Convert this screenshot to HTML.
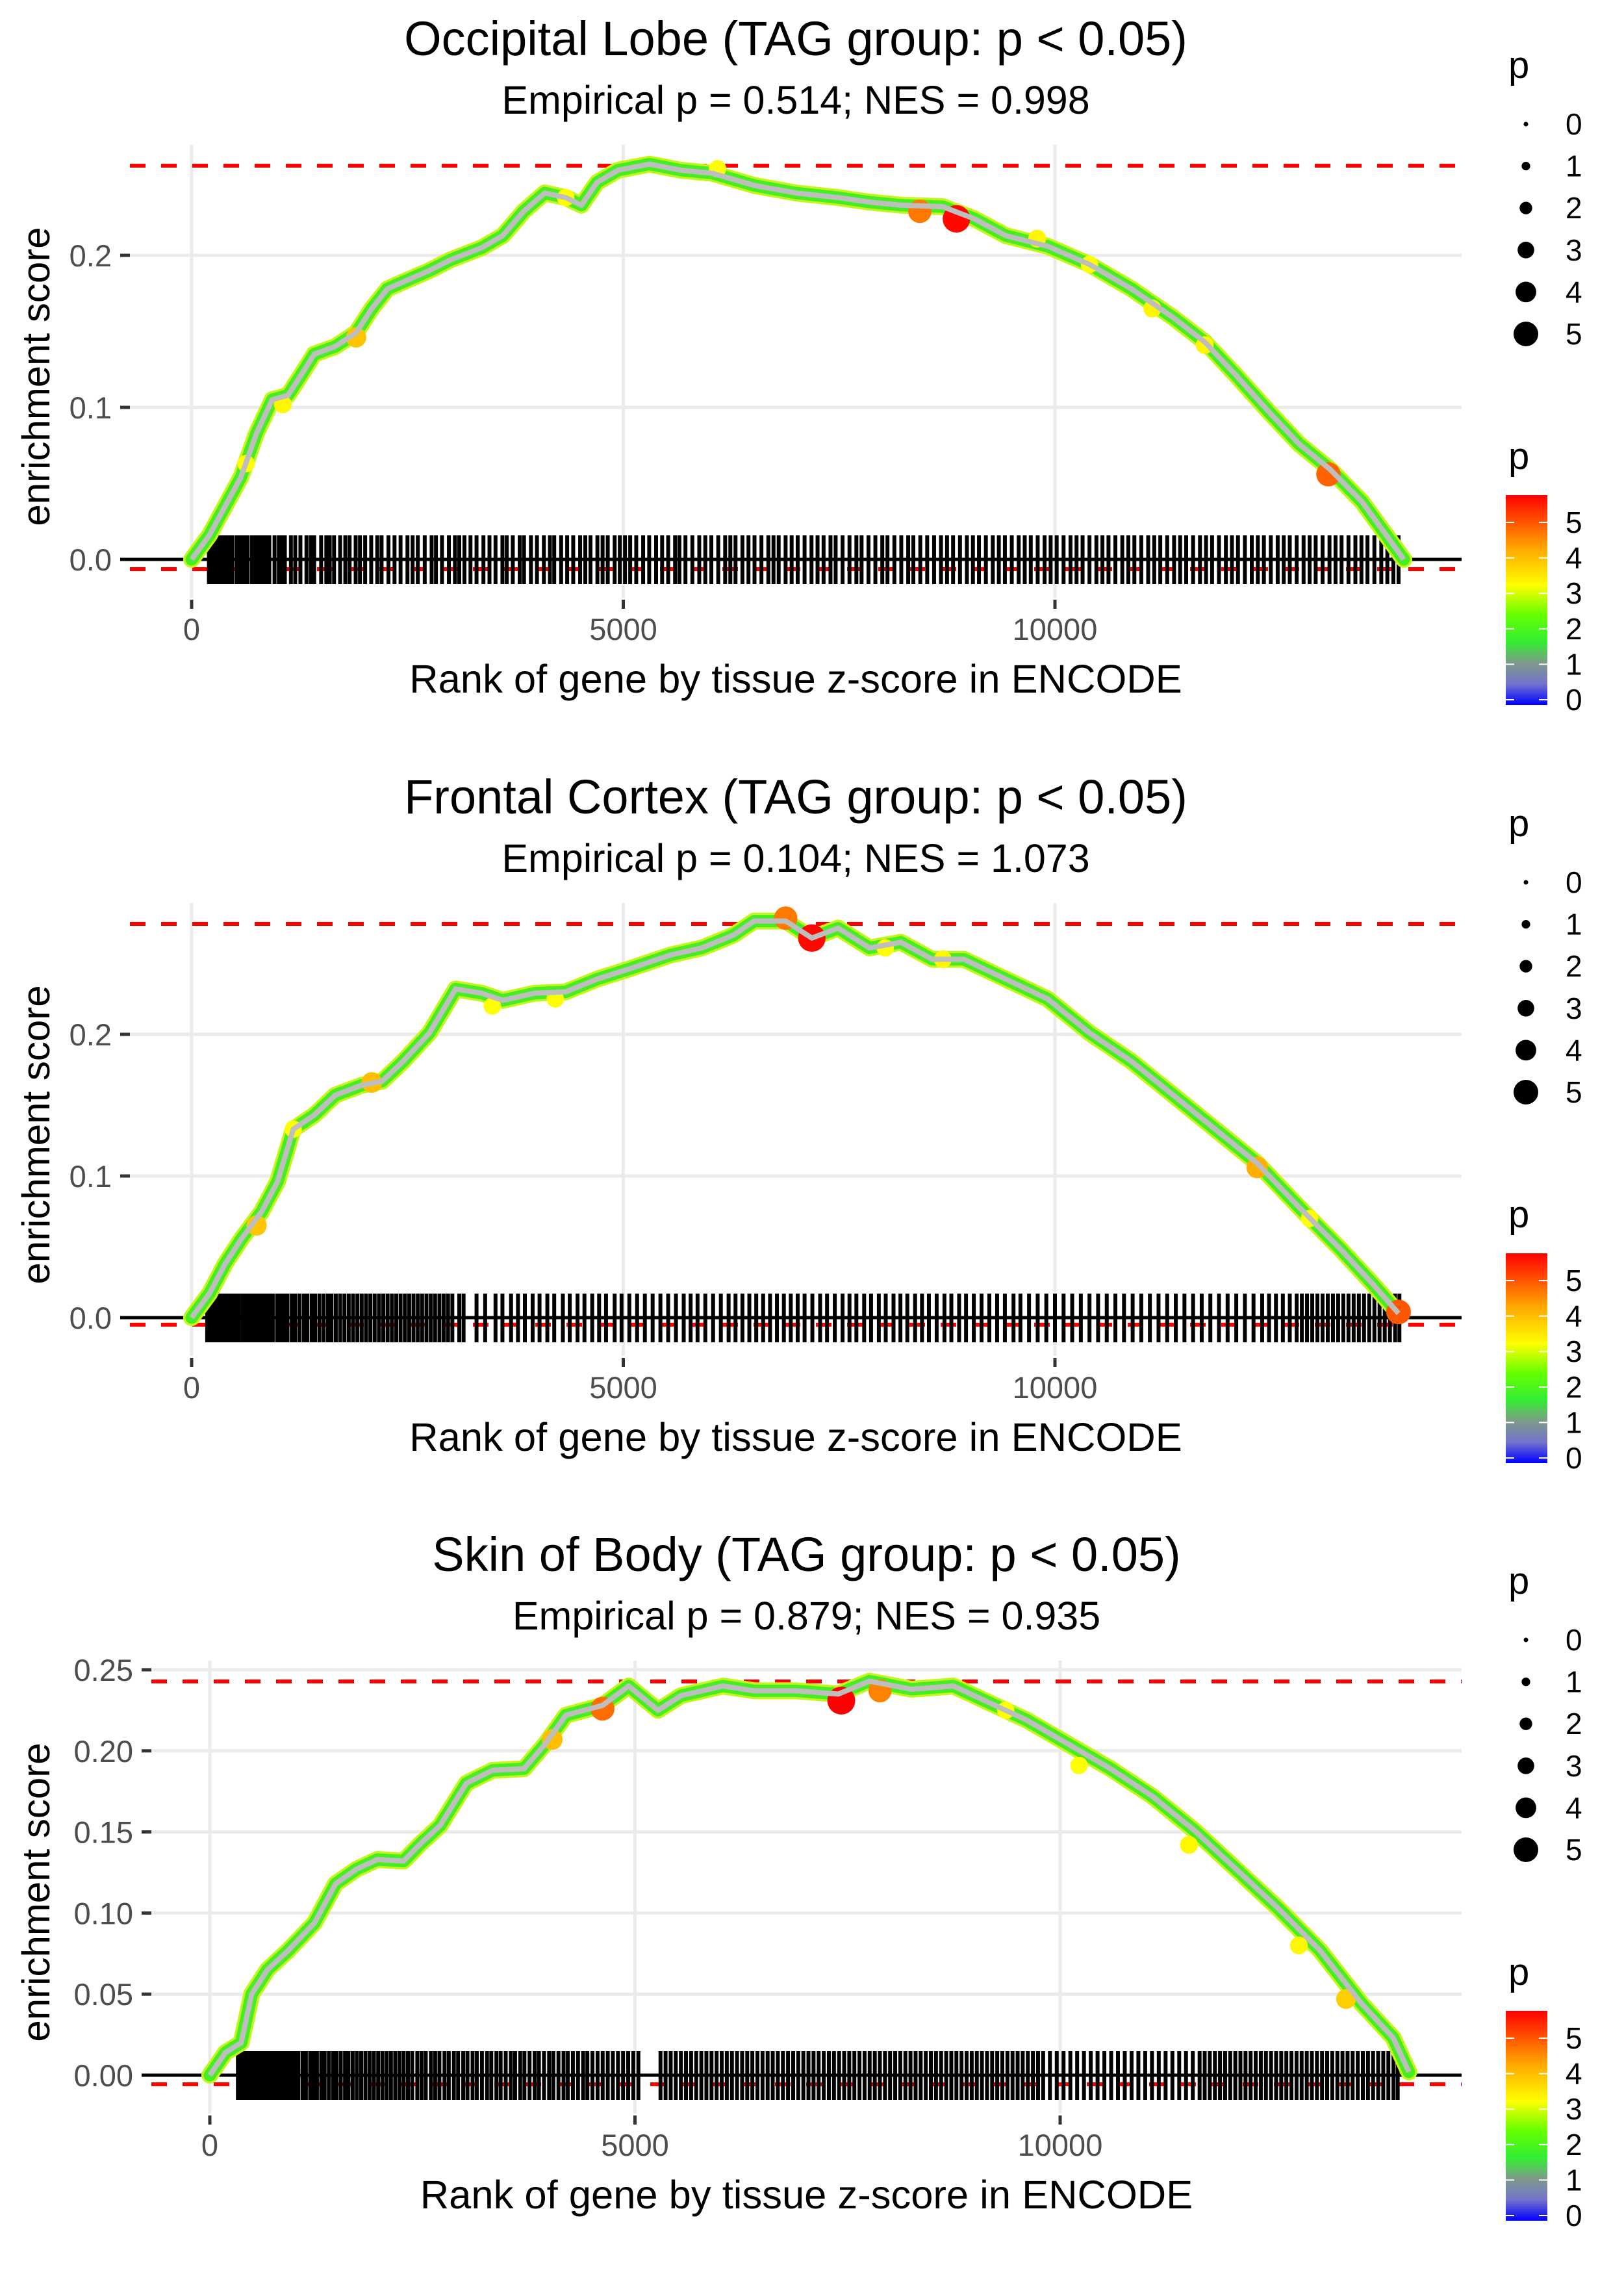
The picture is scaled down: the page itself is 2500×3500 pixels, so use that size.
<!DOCTYPE html>
<html><head><meta charset="utf-8"><style>
html,body{margin:0;padding:0;background:#fff;}
svg{display:block;font-family:"Liberation Sans",Arial,sans-serif;}
</style></head><body>
<svg id="fig" width="2500" height="3500" viewBox="0 0 2500 3500" xmlns="http://www.w3.org/2000/svg">
<defs>
<linearGradient id="cbar" x1="0" y1="0" x2="0" y2="1">
<stop offset="0" stop-color="#ff0000"/>
<stop offset="0.25" stop-color="#ffa500"/>
<stop offset="0.43" stop-color="#ffff00"/>
<stop offset="0.57" stop-color="#66ff00"/>
<stop offset="0.70" stop-color="#33ee33"/>
<stop offset="0.80" stop-color="#7f9a8a"/>
<stop offset="0.90" stop-color="#7373cc"/>
<stop offset="1" stop-color="#0000ff"/>
</linearGradient>
</defs>
</svg>
<script>
// ---- data ----
const titles = ["Occipital Lobe (TAG group: p < 0.05)","Frontal Cortex (TAG group: p < 0.05)","Skin of Body (TAG group: p < 0.05)"];
const subtitles = ["Empirical p = 0.514; NES = 0.998","Empirical p = 0.104; NES = 1.073","Empirical p = 0.879; NES = 0.935"];
const yTicks1 = [0,0.1,0.2];
const yTickLabels1 = ["0.0","0.1","0.2"];
const yTicks2 = [0,0.1,0.2];
const yTickLabels2 = ["0.0","0.1","0.2"];
const yTicks3 = [0,0.05,0.1,0.15,0.2,0.25];
const yTickLabels3 = ["0.00","0.05","0.10","0.15","0.20","0.25"];
const xTicks = [0,5000,10000];
const xTickLabels = ["0","5000","10000"];
const maxES = [0.259,0.278,0.2428];
const minES = [-0.0064,-0.005,-0.0056];
const rank1 = [0,206,388,570,752,934,1117,1299,1420,1663,1905,2087,2269,2512,2755,2998,3362,3604,3847,4090,4333,4515,4697,4939,5303,5667,6031,6517,7002,7488,7852,8216,8701,9066,9430,9915,10400,10885,11371,11735,12099,12463,12827,13191,13555,13798,14041];
const es1 = [0,.016,.035,.054,.083,.105,.108,.124,.135,.140,.149,.165,.178,.184,.190,.197,.205,.213,.229,.241,.238,.233,.248,.256,.260,.256,.254,.246,.241,.238,.235,.233,.232,.224,.213,.206,.194,.178,.159,.143,.121,.098,.076,.059,.038,.019,0];
const rank2 = [0,206,388,570,813,995,1177,1420,1663,1966,2209,2451,2755,3058,3362,3604,3968,4333,4697,5061,5546,5910,6274,6517,6881,7184,7488,7852,8216,8580,8944,9430,9915,10400,10885,11371,11856,12342,12827,13313,13677,13980];
const es2 = [0,.017,.038,.055,.075,.096,.133,.143,.157,.164,.167,.181,.201,.232,.229,.224,.229,.230,.239,.246,.256,.261,.270,.280,.280,.268,.275,.261,.265,.253,.253,.239,.225,.201,.181,.157,.133,.109,.078,.048,.024,.003];
const rank3 = [0,185,369,493,677,924,1232,1478,1724,1970,2278,2463,2709,3017,3325,3695,3941,4187,4618,4926,5271,5542,6034,6404,6897,7389,7758,8251,8744,9236,9606,10099,10592,11084,11577,12070,12562,13055,13547,13917,14101];
const es3 = [0,.014,.020,.050,.065,.077,.094,.118,.127,.133,.132,.142,.154,.180,.188,.189,.204,.222,.228,.240,.225,.234,.240,.237,.237,.235,.243,.238,.240,.228,.219,.204,.189,.172,.151,.127,.103,.077,.044,.023,.002];
const hiRank1 = [631,1056,1905,4333,6092,9794,10400,11128,11735,8435,13167,8859];
const hiES1 = [.063,.102,.146,.238,.257,.211,.194,.165,.141,.229,.056,.224];
const hiP1 = [3.2,3.3,3.9,3.2,3.2,3.3,3.2,3.3,3.3,4.7,4.9,5.7];
const hiRank2 = [752,1177,2087,3483,4212,8034,8701,12949,12342,13980,6881,7184];
const hiES2 = [.065,.133,.166,.220,.225,.261,.253,.070,.106,.004,.282,.268];
const hiP2 = [3.9,3.2,4.0,3.2,3.2,3.2,3.3,3.2,4.2,5.0,4.7,5.7];
const hiRank3 = [4027,10222,12808,13362,11515,9360,4618,7881,7426];
const hiES3 = [.207,.191,.080,.047,.142,.225,.226,.237,.231];
const hiP3 = [4.0,3.2,3.3,3.8,3.3,3.2,4.8,4.6,5.8];
const rug1 = [200,230,260,290,330,350,380,420,450,470,520,560,590,610,650,700,720,760,800,830,870,900,960,1010,1050,1080,1150,1200,1260,1330,1380,1420,1500,1560,1600,1650,1720,1780,1830,1900,1950,2010,2080,2150,2200,2280,2350,2420,2500,2560,2620,2700,2780,2830,2900,2980,3050,3100,3160,3230,3300,3380,3450,3520,3600,3650,3720,3800,3850,3930,4000,4080,4150,4200,4280,4350,4420,4500,4560,4620,4700,4760,4820,4900,4960,5020,5080,5150,5230,5300,5380,5450,5520,5600,5650,5720,5800,5880,5950,6020,6100,6180,6240,6300,6380,6450,6520,6600,6680,6740,6800,6880,6950,7020,7100,7180,7250,7320,7400,7460,7540,7620,7700,7760,7840,7920,8000,8060,8140,8220,8300,8360,8440,8520,8600,8680,8750,8820,8900,8980,9050,9120,9200,9280,9350,9420,9500,9580,9650,9720,9800,9880,9950,10020,10100,10180,10250,10320,10400,10480,10550,10620,10700,10780,10850,10920,11000,11080,11150,11220,11300,11380,11450,11520,11600,11680,11750,11820,11900,11980,12050,12120,12200,12280,12350,12420,12500,12580,12650,12720,12800,12880,12950,13020,13100,13180,13250,13320,13400,13480,13550,13620,13700,13780,13850,13920,13980];
const rug2 = [180,215,250,290,320,365,400,440,470,510,545,590,630,660,700,745,780,820,860,900,940,990,1030,1070,1110,1160,1200,1250,1300,1340,1390,1430,1480,1530,1580,1620,1670,1720,1770,1820,1870,1920,1970,2020,2070,2120,2170,2220,2270,2320,2370,2420,2470,2520,2570,2620,2670,2720,2770,2820,2870,2920,2970,3020,3100,3150,3300,3400,3520,3600,3700,3780,3860,3950,4030,4120,4200,4300,4380,4470,4550,4640,4720,4800,4900,4980,5070,5160,5250,5340,5430,5520,5610,5700,5780,5860,5950,6040,6130,6220,6300,6380,6460,6540,6620,6700,6780,6860,6940,7020,7100,7190,7280,7360,7450,7540,7620,7700,7790,7870,7960,8040,8130,8210,8290,8380,8460,8540,8630,8720,8800,8890,8970,9060,9150,9240,9330,9420,9520,9600,9700,9800,9900,10000,10100,10200,10300,10400,10500,10600,10700,10800,10900,11000,11100,11200,11300,11400,11500,11600,11700,11800,11900,12000,12100,12200,12300,12400,12480,12560,12640,12720,12800,12860,12920,12980,13040,13100,13160,13220,13280,13340,13400,13460,13520,13580,13640,13700,13760,13820,13880,13940,13990];
const rug3 = [330,360,400,430,470,500,540,580,610,650,690,720,760,800,840,880,920,960,1000,1040,1090,1130,1180,1220,1260,1310,1350,1400,1450,1490,1540,1590,1630,1680,1730,1780,1830,1880,1930,1980,2030,2080,2130,2180,2230,2280,2330,2380,2440,2490,2540,2600,2650,2700,2760,2810,2870,2920,2980,3030,3090,3140,3200,3260,3310,3370,3420,3480,3540,3590,3650,3700,3760,3820,3870,3930,3990,4040,4100,4160,4210,4270,4330,4390,4440,4500,4560,4620,4680,4740,4800,4860,4920,4980,5040,5300,5360,5420,5480,5540,5600,5660,5720,5780,5840,5900,5960,6020,6080,6140,6200,6260,6320,6380,6440,6500,6560,6620,6680,6740,6800,6860,6920,6980,7040,7100,7160,7220,7280,7340,7400,7460,7520,7580,7640,7700,7760,7820,7880,7940,8000,8060,8120,8180,8240,8300,8360,8420,8480,8540,8600,8660,8720,8780,8840,8900,8960,9020,9080,9140,9200,9260,9320,9380,9440,9500,9560,9620,9680,9740,9800,9880,9960,10040,10120,10200,10280,10360,10440,10520,10600,10680,10760,10840,10920,11000,11080,11160,11240,11320,11400,11480,11560,11640,11700,11760,11820,11880,11940,12000,12060,12120,12180,12240,12300,12360,12420,12480,12540,12600,12660,12720,12780,12840,12900,12960,13020,13080,13140,13200,13260,13320,13380,13440,13500,13560,13620,13680,13740,13800,13860,13920,13970];
const sizeLegendVals = [0,1,2,3,4,5];
const colorLegendVals = [0,1,2,3,4,5];

// ---- helpers ----
const NS = "http://www.w3.org/2000/svg";
const svg = document.getElementById('fig');
function mk(tag, attrs, parent, text){
  const e = document.createElementNS(NS, tag);
  for (const k in attrs) e.setAttribute(k, attrs[k]);
  if (text !== undefined) e.textContent = text;
  (parent||svg).appendChild(e);
  return e;
}
function lerp(a,b,t){return a+(b-a)*t;}
const cStops = [[-0.15,[0,0,255]],[0.5,[115,115,204]],[1.1,[127,154,138]],[1.7,[51,238,51]],[2.4,[102,255,0]],[3.2,[255,255,0]],[4.3,[255,165,0]],[5.77,[255,0,0]]];
function pColor(v){
  for (let i=0;i<cStops.length-1;i++){
    const a=cStops[i], b=cStops[i+1];
    if (v<=b[0]){const t=Math.max(0,(v-a[0])/(b[0]-a[0]));
      return 'rgb('+a[1].map((c,j)=>Math.round(lerp(c,b[1][j],t))).join(',')+')';}
  }
  return 'rgb(255,0,0)';
}
function pRadius(v){ return 3.5 + v*3.1; }

const panels = [
  {dy:0, left:200, x0:295, xs:0.1329, y0:861, ys:2340, yt:yTicks1, yl:yTickLabels1, r:rank1, e:es1, hr:hiRank1, he:hiES1, hp:hiP1, rug:rug1},
  {dy:1167, left:200, x0:295, xs:0.1329, y0:2028, ys:2180, yt:yTicks2, yl:yTickLabels2, r:rank2, e:es2, hr:hiRank2, he:hiES2, hp:hiP2, rug:rug2},
  {dy:2333, left:233, x0:323, xs:0.1309, y0:3194, ys:2496, yt:yTicks3, yl:yTickLabels3, r:rank3, e:es3, hr:hiRank3, he:hiES3, hp:hiP3, rug:rug3}
];

panels.forEach((P, i) => {
  const g = mk('g', {});
  
  
  const X = r => P.x0 + r*P.xs;
  const Y = v => P.y0 - v*P.ys;
  const right = 2250, top = 223 + P.dy, bottom = 920 + P.dy;
  const cx = (P.left + right)/2;

  const t = mk('text', {x:cx, y:85+P.dy, 'font-size':74, 'text-anchor':'middle', fill:'#000'}, g, titles[i]);
  
  
  const st = mk('text', {x:cx, y:175+P.dy, 'font-size':61, 'text-anchor':'middle', fill:'#000'}, g, subtitles[i]);
  
  

  P.yt.forEach((v, k) => {
    const gl = mk('line', {x1:P.left, x2:right, y1:Y(v), y2:Y(v), stroke:'#ebebeb', 'stroke-width':5}, g);
    
    
    const tk = mk('line', {x1:P.left-15, x2:P.left, y1:Y(v), y2:Y(v), stroke:'#333', 'stroke-width':5}, g);
    
    
    const tl = mk('text', {x:P.left-28, y:Y(v)+17, 'font-size':47, 'text-anchor':'end', fill:'#4d4d4d'}, g, P.yl[k]);
    
    
  });
  xTicks.forEach((v, k) => {
    const gl = mk('line', {x1:X(v), x2:X(v), y1:top, y2:bottom, stroke:'#ebebeb', 'stroke-width':5}, g);
    
    
    const tk = mk('line', {x1:X(v), x2:X(v), y1:bottom+3, y2:bottom+17, stroke:'#333', 'stroke-width':5}, g);
    
    
    const tl = mk('text', {x:X(v), y:985+P.dy, 'font-size':47, 'text-anchor':'middle', fill:'#4d4d4d'}, g, xTickLabels[k]);
    
    
  });

  const xt = mk('text', {x:cx, y:1066+P.dy, 'font-size':61.5, 'text-anchor':'middle', fill:'#000'}, g, 'Rank of gene by tissue z-score in ENCODE');
  
  
  const ymid = (top + bottom)/2 + 8;
  const yt = mk('text', {x:0, y:0, 'font-size':60, 'text-anchor':'middle', fill:'#000', transform:'translate(76,'+ymid+') rotate(-90)'}, g, 'enrichment score');
  
  

  const dmax = mk('line', {x1:P.left, x2:right, y1:Y(maxES[i]), y2:Y(maxES[i]), stroke:'#ff0000', 'stroke-width':6, 'stroke-dasharray':'24 24'}, g);
  
  
  const dmin = mk('line', {x1:P.left, x2:right, y1:Y(minES[i]), y2:Y(minES[i]), stroke:'#ff0000', 'stroke-width':6, 'stroke-dasharray':'24 24'}, g);
  
  

  const rg = mk('g', {}, g);
  
  
  P.rug.forEach(r => {
    const l = mk('line', {x1:X(r), x2:X(r), y1:Y(0)-37, y2:Y(0)+38, stroke:'#000', 'stroke-width':6}, rg);
    
    
  });

  const z = mk('line', {x1:P.left-15, x2:right, y1:Y(0), y2:Y(0), stroke:'#000', 'stroke-width':5}, g);
  
  

  let d = '';
  P.r.forEach((r, k) => { d += (k ? 'L' : 'M') + X(r).toFixed(1) + ' ' + Y(P.e[k]).toFixed(1); });
  const outer = mk('path', {d:d, fill:'none', stroke:'#c6f51a', 'stroke-width':26, 'stroke-linejoin':'round', 'stroke-linecap':'round'}, g);
  
  
  const under = mk('path', {d:d, fill:'none', stroke:'#44ee22', 'stroke-width':19, 'stroke-linejoin':'round', 'stroke-linecap':'round'}, g);
  
  
  P.hr.forEach((r, k) => {
    const c = mk('circle', {cx:X(r), cy:Y(P.he[k]), r:pRadius(P.hp[k]), fill:pColor(P.hp[k])}, g);
    
    
  });
  const line = mk('path', {d:d, fill:'none', stroke:'#bebebe', 'stroke-width':8, 'stroke-linejoin':'round'}, g);
  
  

  const lg = mk('g', {}, g);
  
  
  const lt = mk('text', {x:2322, y:120+P.dy, 'font-size':58, fill:'#000'}, lg, 'p');
  
  
  sizeLegendVals.forEach((v, k) => {
    const cy = 191 + k*64.6 + P.dy;
    const c = mk('circle', {cx:2349, cy:cy, r:pRadius(v), fill:'#000'}, lg);
    
    
    const tx = mk('text', {x:2410, y:cy+16, 'font-size':46, fill:'#000'}, lg, String(v));
    
    
  });

  const cg = mk('g', {}, g);
  
  
  const ct = mk('text', {x:2322, y:722+P.dy, 'font-size':58, fill:'#000'}, cg, 'p');
  
  
  const bar = mk('rect', {x:2318, y:762+P.dy, width:64, height:323, fill:'url(#cbar)'}, cg);
  
  
  colorLegendVals.forEach(v => {
    const cy = 1077 - v*54.6 + P.dy;
    const a = mk('line', {x1:2318, x2:2331, y1:cy, y2:cy, stroke:'#fff', 'stroke-width':2}, cg);
    
    
    const b = mk('line', {x1:2369, x2:2382, y1:cy, y2:cy, stroke:'#fff', 'stroke-width':2}, cg);
    
    
    const tx = mk('text', {x:2410, y:cy+16, 'font-size':46, fill:'#000'}, cg, String(v));
    
    
  });
});
</script>
</body></html>
